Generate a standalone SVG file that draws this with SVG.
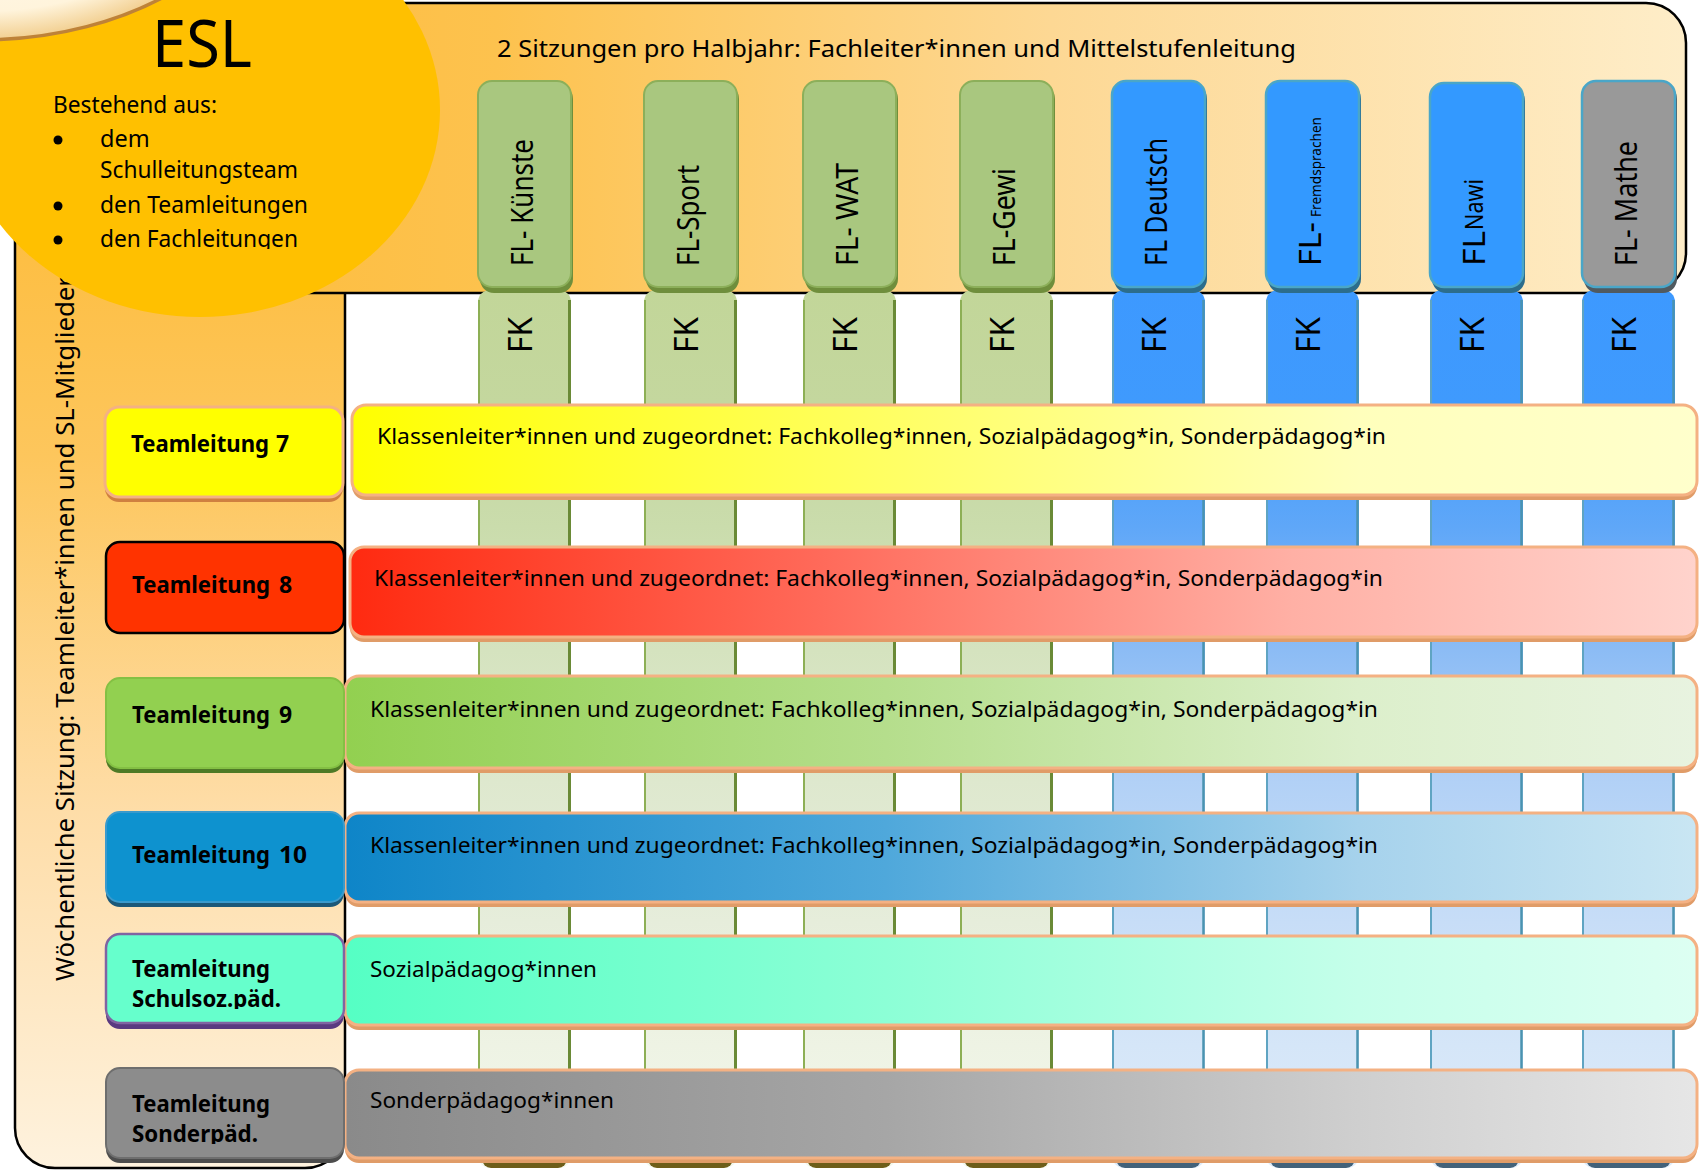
<svg xmlns="http://www.w3.org/2000/svg" width="1700" height="1170" viewBox="0 0 1700 1170">
<defs>
<style>
.t{font-family:"Noto Sans","Open Sans","DejaVu Sans",sans-serif;fill:#000}
.row{font-size:22.5px}
.tl{font-size:23px;font-weight:700}
.fl{font-size:31px}
.fk{font-size:33px}
.frame{stroke:#000;stroke-width:2.5}
.rowbox{stroke:#F4B183;stroke-width:3}
.rowsh{fill:#E09C68}
.ge1{stroke:#8DAF55;stroke-width:2}
.ge2{stroke:#6A8A36;stroke-width:3}
.be1{stroke:#5FA4C2;stroke-width:2}
.be2{stroke:#4A93B0;stroke-width:2.5}
.flg{fill:#A9C77F;stroke:#8CAF5A;stroke-width:2}
.flb{fill:#3399FF;stroke:#4AA6C8;stroke-width:2.5}
.flgr{fill:#999999;stroke:#4AA6C8;stroke-width:2.5}
.shg{fill:#6F8E3C}
.shb{fill:#2C6D8C}
</style>
<linearGradient id="gTop" x1="100" y1="0" x2="1686" y2="0" gradientUnits="userSpaceOnUse">
<stop offset="0" stop-color="#FDBB38"/>
<stop offset="0.25" stop-color="#FDC24E"/>
<stop offset="0.6" stop-color="#FDD894"/>
<stop offset="1" stop-color="#FEEDC8"/>
</linearGradient>
<linearGradient id="gCol" x1="0" y1="150" x2="0" y2="1168" gradientUnits="userSpaceOnUse">
<stop offset="0" stop-color="#FDBB38"/>
<stop offset="0.3" stop-color="#FDC65C"/>
<stop offset="0.65" stop-color="#FEDDA8"/>
<stop offset="1" stop-color="#FEF2DE"/>
</linearGradient>
<radialGradient id="gCream" cx="0.5" cy="0.5" r="0.5">
<stop offset="0" stop-color="#FFFFFF"/>
<stop offset="0.85" stop-color="#FFF4DC"/>
<stop offset="1" stop-color="#F2CF90"/>
</radialGradient>
<linearGradient id="gG" x1="0" y1="290" x2="0" y2="1168" gradientUnits="userSpaceOnUse">
<stop offset="0" stop-color="#C2D699"/>
<stop offset="0.13" stop-color="#C4D79E"/>
<stop offset="0.27" stop-color="#CADCAC"/>
<stop offset="0.41" stop-color="#D5E3BF"/>
<stop offset="0.56" stop-color="#DEE8CE"/>
<stop offset="0.72" stop-color="#E6EDDB"/>
<stop offset="0.86" stop-color="#EEF3E4"/>
<stop offset="1" stop-color="#F3F7EC"/>
</linearGradient>
<linearGradient id="gB" x1="0" y1="290" x2="0" y2="1168" gradientUnits="userSpaceOnUse">
<stop offset="0" stop-color="#3D99FF"/>
<stop offset="0.13" stop-color="#3F9AFD"/>
<stop offset="0.27" stop-color="#5FA7F8"/>
<stop offset="0.41" stop-color="#8CBCF5"/>
<stop offset="0.56" stop-color="#B2D1F6"/>
<stop offset="0.72" stop-color="#C7DDF7"/>
<stop offset="0.86" stop-color="#D5E6F8"/>
<stop offset="1" stop-color="#DDEBFA"/>
</linearGradient>
<linearGradient id="r7" x1="0" y1="0" x2="1" y2="0">
<stop offset="0" stop-color="#FFFF00"/><stop offset="0.45" stop-color="#FFFF70"/><stop offset="0.75" stop-color="#FFFFBC"/><stop offset="1" stop-color="#FFFFCC"/>
</linearGradient>
<linearGradient id="r8" x1="0" y1="0" x2="1" y2="0">
<stop offset="0" stop-color="#FF2A10"/><stop offset="0.35" stop-color="#FF6A5A"/><stop offset="0.7" stop-color="#FFB0A5"/><stop offset="1" stop-color="#FFD3CC"/>
</linearGradient>
<linearGradient id="r9" x1="0" y1="0" x2="1" y2="0">
<stop offset="0" stop-color="#92D050"/><stop offset="0.4" stop-color="#B5DE8C"/><stop offset="0.75" stop-color="#DCEFCB"/><stop offset="1" stop-color="#E8F3E0"/>
</linearGradient>
<linearGradient id="r10" x1="0" y1="0" x2="1" y2="0">
<stop offset="0" stop-color="#0E85C8"/><stop offset="0.4" stop-color="#4FA8DB"/><stop offset="0.75" stop-color="#A6D2EC"/><stop offset="1" stop-color="#C9E6F3"/>
</linearGradient>
<linearGradient id="rSoz" x1="0" y1="0" x2="1" y2="0">
<stop offset="0" stop-color="#55FFC4"/><stop offset="0.4" stop-color="#8CFFD6"/><stop offset="0.75" stop-color="#C5FFEA"/><stop offset="1" stop-color="#DDFFF2"/>
</linearGradient>
<linearGradient id="rSon" x1="0" y1="0" x2="1" y2="0">
<stop offset="0" stop-color="#8A8A8A"/><stop offset="0.4" stop-color="#A6A6A6"/><stop offset="0.75" stop-color="#CFCFCF"/><stop offset="1" stop-color="#E6E6E6"/>
</linearGradient>
<clipPath id="clipEsl"><rect x="0" y="0" width="440" height="249"/></clipPath>
<clipPath id="clipSoz"><rect x="100" y="930" width="250" height="79"/></clipPath>
<clipPath id="clipSon"><rect x="100" y="1064" width="250" height="80"/></clipPath>
</defs>

<rect width="1700" height="1170" fill="#FFFFFF"/>

<!-- frames -->
<g id="weekly-frame">
<rect x="15" y="150" width="330" height="1018" rx="40" fill="url(#gCol)" class="frame"/>
<text class="t" font-size="26" transform="translate(74,981) rotate(-90)" textLength="705" lengthAdjust="spacingAndGlyphs">Wöchentliche Sitzung: Teamleiter*innen und SL-Mitglieder</text>
</g>
<g id="halfyear-frame">
<rect x="100" y="3" width="1586" height="290" rx="40" fill="url(#gTop)" class="frame"/>
<text class="t" x="497" y="57" font-size="24" textLength="799" lengthAdjust="spacingAndGlyphs">2 Sitzungen pro Halbjahr: Fachleiter*innen und Mittelstufenleitung</text>
</g>

<!-- ESL -->
<g id="esl">
<ellipse cx="200" cy="110" rx="240" ry="207" fill="#FFC000"/>
<ellipse cx="-20" cy="-150" rx="290" ry="190" fill="url(#gCream)" stroke="#BE8238" stroke-width="3.5"/>
<text class="t" x="152" y="67" font-size="66" textLength="100" lengthAdjust="spacingAndGlyphs">ESL</text>
<g clip-path="url(#clipEsl)">
<text class="t" x="53" y="113" font-size="23.5" textLength="164" lengthAdjust="spacingAndGlyphs">Bestehend aus:</text>
<circle cx="58" cy="140" r="4.5"/>
<text class="t" x="100" y="147" font-size="23.5">dem</text>
<text class="t" x="100" y="178" font-size="23.5" textLength="198" lengthAdjust="spacingAndGlyphs">Schulleitungsteam</text>
<circle cx="58" cy="206" r="4.5"/>
<text class="t" x="100" y="213" font-size="23.5" textLength="208" lengthAdjust="spacingAndGlyphs">den Teamleitungen</text>
<circle cx="58" cy="240" r="4.5"/>
<text class="t" x="100" y="247" font-size="23.5" textLength="198" lengthAdjust="spacingAndGlyphs">den Fachleitungen</text>
</g>
</g>

<!-- columns: FK strips + FL heads -->
<g id="col-kuenste">
<rect x="478" y="290" width="93" height="878" rx="12" fill="url(#gG)"/>
<rect x="482" y="1148" width="85" height="20" rx="9" fill="#6E5E1A"/>
<line x1="479" y1="300" x2="479" y2="1160" class="ge1"/><line x1="569.5" y1="300" x2="569.5" y2="1160" class="ge2"/>
<text class="t fk" transform="translate(532,353) rotate(-90)" textLength="36" lengthAdjust="spacingAndGlyphs">FK</text>
<rect x="480" y="85" width="93" height="208" rx="14" class="shg"/>
<rect x="478" y="81" width="93" height="206" rx="14" class="flg"/>
<text class="t fl" transform="translate(533,266) rotate(-90)" textLength="127" lengthAdjust="spacingAndGlyphs">FL- Künste</text>
</g>
<g id="col-sport">
<rect x="644" y="290" width="93" height="878" rx="12" fill="url(#gG)"/>
<rect x="648" y="1148" width="85" height="20" rx="9" fill="#6E5E1A"/>
<line x1="645" y1="300" x2="645" y2="1160" class="ge1"/><line x1="735.5" y1="300" x2="735.5" y2="1160" class="ge2"/>
<text class="t fk" transform="translate(698,353) rotate(-90)" textLength="36" lengthAdjust="spacingAndGlyphs">FK</text>
<rect x="646" y="85" width="93" height="208" rx="14" class="shg"/>
<rect x="644" y="81" width="93" height="206" rx="14" class="flg"/>
<text class="t fl" transform="translate(699,266) rotate(-90)" textLength="101" lengthAdjust="spacingAndGlyphs">FL-Sport</text>
</g>
<g id="col-wat">
<rect x="803" y="290" width="93" height="878" rx="12" fill="url(#gG)"/>
<rect x="807" y="1148" width="85" height="20" rx="9" fill="#6E5E1A"/>
<line x1="804" y1="300" x2="804" y2="1160" class="ge1"/><line x1="894.5" y1="300" x2="894.5" y2="1160" class="ge2"/>
<text class="t fk" transform="translate(857,353) rotate(-90)" textLength="36" lengthAdjust="spacingAndGlyphs">FK</text>
<rect x="805" y="85" width="93" height="208" rx="14" class="shg"/>
<rect x="803" y="81" width="93" height="206" rx="14" class="flg"/>
<text class="t fl" transform="translate(858,266) rotate(-90)" textLength="103" lengthAdjust="spacingAndGlyphs">FL- WAT</text>
</g>
<g id="col-gewi">
<rect x="960" y="290" width="93" height="878" rx="12" fill="url(#gG)"/>
<rect x="964" y="1148" width="85" height="20" rx="9" fill="#6E5E1A"/>
<line x1="961" y1="300" x2="961" y2="1160" class="ge1"/><line x1="1051.5" y1="300" x2="1051.5" y2="1160" class="ge2"/>
<text class="t fk" transform="translate(1014,353) rotate(-90)" textLength="36" lengthAdjust="spacingAndGlyphs">FK</text>
<rect x="962" y="85" width="93" height="208" rx="14" class="shg"/>
<rect x="960" y="81" width="93" height="206" rx="14" class="flg"/>
<text class="t fl" transform="translate(1015,266) rotate(-90)" textLength="98" lengthAdjust="spacingAndGlyphs">FL-Gewi</text>
</g>
<g id="col-deutsch">
<rect x="1112" y="290" width="93" height="878" rx="12" fill="url(#gB)"/>
<rect x="1116" y="1148" width="85" height="20" rx="9" fill="#43627A"/>
<line x1="1113" y1="300" x2="1113" y2="1160" class="be1"/><line x1="1203.5" y1="300" x2="1203.5" y2="1160" class="be2"/>
<text class="t fk" transform="translate(1166,353) rotate(-90)" textLength="36" lengthAdjust="spacingAndGlyphs">FK</text>
<rect x="1114" y="85" width="93" height="208" rx="14" class="shb"/>
<rect x="1112" y="81" width="93" height="206" rx="14" class="flb"/>
<text class="t fl" transform="translate(1167,266) rotate(-90)" textLength="128" lengthAdjust="spacingAndGlyphs">FL Deutsch</text>
</g>
<g id="col-fremdsprachen">
<rect x="1266" y="290" width="93" height="878" rx="12" fill="url(#gB)"/>
<rect x="1270" y="1148" width="85" height="20" rx="9" fill="#43627A"/>
<line x1="1267" y1="300" x2="1267" y2="1160" class="be1"/><line x1="1357.5" y1="300" x2="1357.5" y2="1160" class="be2"/>
<text class="t fk" transform="translate(1320,353) rotate(-90)" textLength="36" lengthAdjust="spacingAndGlyphs">FK</text>
<rect x="1268" y="85" width="93" height="208" rx="14" class="shb"/>
<rect x="1266" y="81" width="93" height="206" rx="14" class="flb"/>
<text class="t fl" transform="translate(1321,266) rotate(-90)" textLength="44" lengthAdjust="spacingAndGlyphs">FL-</text>
<text class="t" font-size="14" transform="translate(1321,217) rotate(-90)" textLength="100" lengthAdjust="spacingAndGlyphs">Fremdsprachen</text>
</g>
<g id="col-nawi">
<rect x="1430" y="290" width="93" height="878" rx="12" fill="url(#gB)"/>
<rect x="1434" y="1148" width="85" height="20" rx="9" fill="#43627A"/>
<line x1="1431" y1="300" x2="1431" y2="1160" class="be1"/><line x1="1521.5" y1="300" x2="1521.5" y2="1160" class="be2"/>
<text class="t fk" transform="translate(1484,353) rotate(-90)" textLength="36" lengthAdjust="spacingAndGlyphs">FK</text>
<rect x="1432" y="87" width="93" height="206" rx="14" class="shb"/>
<rect x="1430" y="83" width="93" height="204" rx="14" class="flb"/>
<text class="t fl" transform="translate(1485,266) rotate(-90)" textLength="35" lengthAdjust="spacingAndGlyphs">FL</text>
<text class="t" font-size="26" transform="translate(1483,230) rotate(-90)" textLength="51" lengthAdjust="spacingAndGlyphs">Nawi</text>
</g>
<g id="col-mathe">
<rect x="1582" y="290" width="93" height="878" rx="12" fill="url(#gB)"/>
<rect x="1586" y="1148" width="85" height="20" rx="9" fill="#43627A"/>
<line x1="1583" y1="300" x2="1583" y2="1160" class="be1"/><line x1="1673.5" y1="300" x2="1673.5" y2="1160" class="be2"/>
<text class="t fk" transform="translate(1636,353) rotate(-90)" textLength="36" lengthAdjust="spacingAndGlyphs">FK</text>
<rect x="1584" y="85" width="93" height="208" rx="14" fill="#505A60"/>
<rect x="1582" y="81" width="93" height="206" rx="14" class="flgr"/>
<text class="t fl" transform="translate(1637,266) rotate(-90)" textLength="125" lengthAdjust="spacingAndGlyphs">FL- Mathe</text>
</g>

<!-- rows -->
<g id="row-7">
<rect x="352" y="410" width="1345" height="90" rx="14" class="rowsh"/>
<rect x="352" y="405" width="1345" height="90" rx="14" fill="url(#r7)" class="rowbox"/>
<text class="t row" x="377" y="444" textLength="1009" lengthAdjust="spacingAndGlyphs">Klassenleiter*innen und zugeordnet: Fachkolleg*innen, Sozialpädagog*in, Sonderpädagog*in</text>
</g>
<g id="row-8">
<rect x="350" y="552" width="1347" height="90" rx="14" class="rowsh"/>
<rect x="350" y="547" width="1347" height="90" rx="14" fill="url(#r8)" class="rowbox"/>
<text class="t row" x="374" y="586" textLength="1009" lengthAdjust="spacingAndGlyphs">Klassenleiter*innen und zugeordnet: Fachkolleg*innen, Sozialpädagog*in, Sonderpädagog*in</text>
</g>
<g id="row-9">
<rect x="345" y="681" width="1352" height="92" rx="14" class="rowsh"/>
<rect x="345" y="676" width="1352" height="92" rx="14" fill="url(#r9)" class="rowbox"/>
<text class="t row" x="370" y="717" textLength="1008" lengthAdjust="spacingAndGlyphs">Klassenleiter*innen und zugeordnet: Fachkolleg*innen, Sozialpädagog*in, Sonderpädagog*in</text>
</g>
<g id="row-10">
<rect x="345" y="818" width="1352" height="89" rx="14" class="rowsh"/>
<rect x="345" y="813" width="1352" height="89" rx="14" fill="url(#r10)" class="rowbox"/>
<text class="t row" x="370" y="853" textLength="1008" lengthAdjust="spacingAndGlyphs">Klassenleiter*innen und zugeordnet: Fachkolleg*innen, Sozialpädagog*in, Sonderpädagog*in</text>
</g>
<g id="row-schulsoz">
<rect x="345" y="941" width="1352" height="89" rx="14" class="rowsh"/>
<rect x="345" y="936" width="1352" height="89" rx="14" fill="url(#rSoz)" class="rowbox"/>
<text class="t row" x="370" y="977" textLength="227" lengthAdjust="spacingAndGlyphs">Sozialpädagog*innen</text>
</g>
<g id="row-sonder">
<rect x="345" y="1075" width="1352" height="88" rx="14" class="rowsh"/>
<rect x="345" y="1070" width="1352" height="88" rx="14" fill="url(#rSon)" class="rowbox"/>
<text class="t row" x="370" y="1108" textLength="244" lengthAdjust="spacingAndGlyphs">Sonderpädagog*innen</text>
</g>

<!-- team leads -->
<g id="tl-7">
<rect x="105" y="412" width="238" height="90" rx="14" fill="#CF8040"/>
<rect x="105" y="407" width="238" height="90" rx="14" fill="#FFFF00" stroke="#F4B183" stroke-width="3"/>
<text class="t tl" x="131" y="452" textLength="138" lengthAdjust="spacingAndGlyphs">Teamleitung</text>
<text class="t tl" x="276" y="452">7</text>
</g>
<g id="tl-8">
<rect x="106" y="542" width="238" height="91" rx="14" fill="#FF3300" stroke="#000" stroke-width="2.5"/>
<text class="t tl" x="132" y="593" textLength="138" lengthAdjust="spacingAndGlyphs">Teamleitung</text>
<text class="t tl" x="279" y="593">8</text>
</g>
<g id="tl-9">
<rect x="106" y="683" width="238" height="90" rx="14" fill="#4E7A26"/>
<rect x="106" y="678" width="238" height="90" rx="14" fill="#92D050" stroke="#84C044" stroke-width="2"/>
<text class="t tl" x="132" y="723" textLength="138" lengthAdjust="spacingAndGlyphs">Teamleitung</text>
<text class="t tl" x="279" y="723">9</text>
</g>
<g id="tl-10">
<rect x="106" y="817" width="238" height="90" rx="14" fill="#1C5878"/>
<rect x="106" y="812" width="238" height="90" rx="14" fill="#0E92CF" stroke="#3A9ACC" stroke-width="2"/>
<text class="t tl" x="132" y="863" textLength="138" lengthAdjust="spacingAndGlyphs">Teamleitung</text>
<text class="t tl" x="279" y="863" textLength="28" lengthAdjust="spacingAndGlyphs">10</text>
</g>
<g id="tl-schulsoz">
<rect x="106" y="940" width="238" height="89" rx="14" fill="#5A3A80"/>
<rect x="106" y="934" width="238" height="89" rx="14" fill="#66FFCC" stroke="#8064A2" stroke-width="2.5"/>
<g clip-path="url(#clipSoz)">
<text class="t tl" x="132" y="977" textLength="138" lengthAdjust="spacingAndGlyphs">Teamleitung</text>
<text class="t tl" x="132" y="1007" textLength="149" lengthAdjust="spacingAndGlyphs">Schulsoz.päd.</text>
</g>
</g>
<g id="tl-sonder">
<rect x="106" y="1073" width="238" height="90" rx="14" fill="#4D4D4D"/>
<rect x="106" y="1068" width="238" height="90" rx="14" fill="#8C8C8C" stroke="#6E6E6E" stroke-width="2"/>
<g clip-path="url(#clipSon)">
<text class="t tl" x="132" y="1112" textLength="138" lengthAdjust="spacingAndGlyphs">Teamleitung</text>
<text class="t tl" x="132" y="1142" textLength="126" lengthAdjust="spacingAndGlyphs">Sonderpäd.</text>
</g>
</g>

<g id="connectors"></g>
</svg>
